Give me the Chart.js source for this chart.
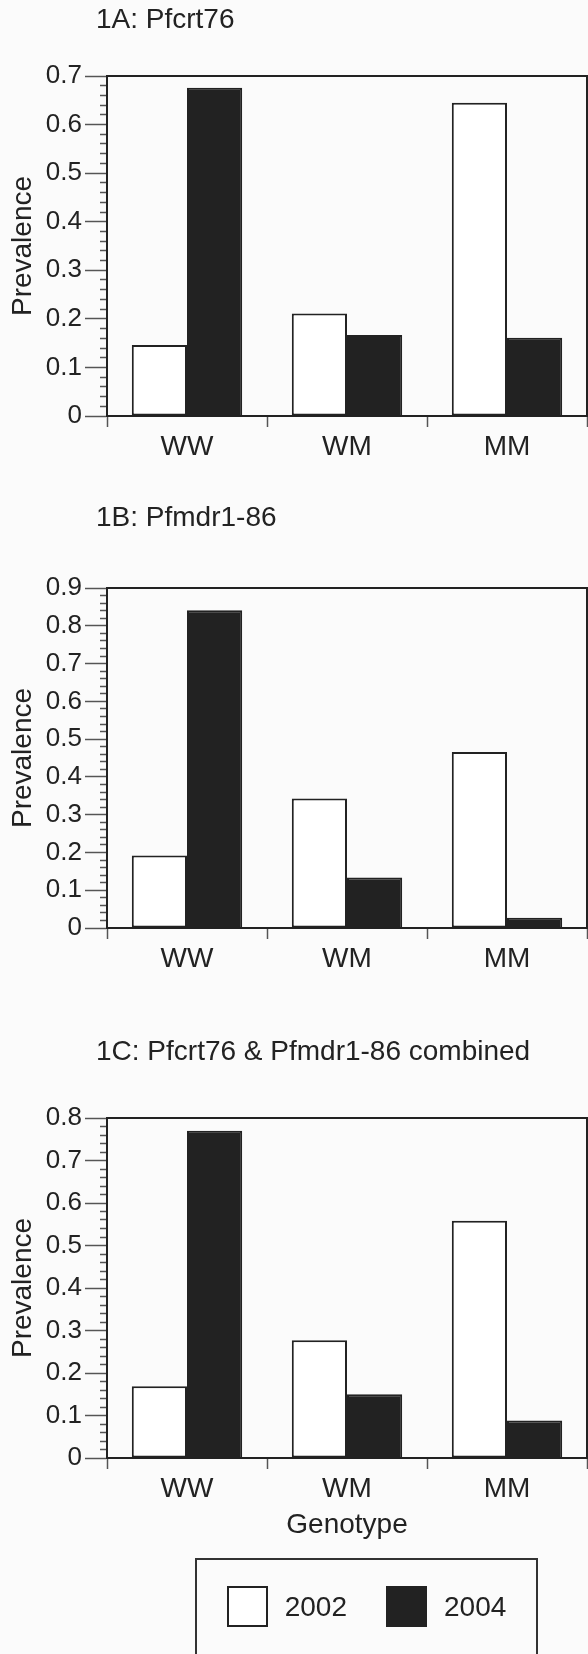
<!DOCTYPE html>
<html>
<head>
<meta charset="utf-8">
<script src="https://cdn.jsdelivr.net/npm/chart.js@4.4.1/dist/chart.umd.min.js"></script>
<style>
  html, body { margin: 0; padding: 0; background: #fbfbfb; }
  body { width: 588px; height: 1654px; position: relative; overflow: hidden; font-family: 'Liberation Sans', Arial, sans-serif; color: #222; }
  .panel { position: absolute; left: 0; width: 588px; }
  #legend {
    position: absolute; left: 195px; top: 1558px; width: 343px; height: 130px;
    box-sizing: border-box; border: 2px solid #333; padding-top: 26px;
    display: flex; justify-content: center; align-items: flex-start;
  }
  #legend .item { display: flex; align-items: center; height: 41px; }
  #legend .item + .item { margin-left: 39px; }
  #legend .swatch { width: 41px; height: 41px; box-sizing: border-box; }
  #legend .label { margin-left: 17px; font-size: 28px; line-height: 41px; }
</style>
</head>
<body>
<div class="panel" style="top:0;height:470px"><canvas id="chartA"></canvas></div>
<div class="panel" style="top:480px;height:500px"><canvas id="chartB"></canvas></div>
<div class="panel" style="top:990px;height:664px"><canvas id="chartC"></canvas></div>
<div id="legend"></div>

<script>
// genotype categories and survey years
const genotypes = ['WW', 'WM', 'MM'];
const years = ['2002', '2004'];

// 1A: Pfcrt76
const pfcrt2002 = [0.146, 0.211, 0.645];
const pfcrt2004 = [0.676, 0.167, 0.161];

// 1B: Pfmdr1-86
const pfmdr2002 = [0.192, 0.343, 0.466];
const pfmdr2004 = [0.841, 0.134, 0.027];

// 1C: both combined
const combined2002 = [0.169, 0.277, 0.558];
const combined2004 = [0.770, 0.150, 0.088];

const FONT = "'Liberation Sans', Arial, sans-serif";
const INK = '#222';
const TICK = '#555';
const LEFT_PAD = 96;   // panel titles start here
const AXIS_X = 107;    // y axis line

// top + right edge of the plot box
const framePlugin = {
  id: 'frame',
  afterDatasetsDraw(chart) {
    const { ctx, chartArea } = chart;
    ctx.save();
    ctx.strokeStyle = INK;
    ctx.lineWidth = 2;
    ctx.beginPath();
    ctx.moveTo(chartArea.left, chartArea.top);
    ctx.lineTo(chartArea.right, chartArea.top);
    ctx.lineTo(chartArea.right, chartArea.bottom);
    ctx.stroke();
    ctx.restore();
  }
};

// the layout padding only exists to push the titles right;
// give the y axis the full left margin back so labels and axis title are not clipped
const wideYAxis = {
  id: 'wideYAxis',
  afterLayout(chart) {
    const y = chart.scales.y;
    y.left = 0;
    y.width = y.right;
  }
};

// boxed legend under the last panel, built from the chart's own legend items
const htmlLegend = {
  id: 'htmlLegend',
  afterUpdate(chart) {
    const box = document.getElementById('legend');
    box.innerHTML = '';
    const items = chart.options.plugins.legend.labels.generateLabels(chart);
    items.forEach(item => {
      const el = document.createElement('div');
      el.className = 'item';
      const sw = document.createElement('span');
      sw.className = 'swatch';
      sw.style.background = item.fillStyle;
      sw.style.border = '2px solid ' + item.strokeStyle;
      const tx = document.createElement('span');
      tx.className = 'label';
      tx.textContent = item.text;
      el.appendChild(sw);
      el.appendChild(tx);
      box.appendChild(el);
    });
  }
};

function isMajor(v) {
  return Math.abs(v * 10 - Math.round(v * 10)) < 1e-6;
}

function makePanel(id, title, values2002, values2004, yMax, pads, opts) {
  const showXTitle = !!opts.xTitle;
  const plugins = [framePlugin, wideYAxis];
  if (opts.legend) plugins.push(htmlLegend);
  return new Chart(document.getElementById(id), {
    type: 'bar',
    data: {
      labels: genotypes,
      datasets: [
        {
          label: years[0],
          data: values2002,
          backgroundColor: '#ffffff',
          borderColor: INK,
          borderWidth: 2,
          borderSkipped: false
        },
        {
          label: years[1],
          data: values2004,
          backgroundColor: INK,
          borderColor: INK,
          borderWidth: 2
        }
      ]
    },
    options: {
      responsive: true,
      maintainAspectRatio: false,
      animation: false,
      layout: { padding: { top: 0, left: LEFT_PAD, right: 1, bottom: pads.bottom } },
      datasets: {
        bar: { categoryPercentage: 0.69, barPercentage: 1.0 }
      },
      plugins: {
        legend: { display: false },
        tooltip: { enabled: false },
        title: {
          display: true,
          text: title,
          align: 'start',
          color: INK,
          font: { family: FONT, size: 28, weight: 'normal' },
          padding: { top: pads.titleTop, bottom: pads.titleBottom }
        }
      },
      scales: {
        x: {
          offset: true,
          border: { color: INK, width: 2 },
          grid: {
            offset: true,
            drawOnChartArea: false,
            tickLength: 11,
            tickColor: TICK,
            tickWidth: 1.5
          },
          ticks: {
            color: INK,
            padding: 3,
            font: { family: FONT, size: 28 }
          },
          title: {
            display: showXTitle,
            text: 'Genotype',
            color: INK,
            font: { family: FONT, size: 28 },
            padding: { top: 0, bottom: 2 }
          }
        },
        y: {
          min: 0,
          max: yMax,
          afterFit(scale) { scale.width = AXIS_X - LEFT_PAD; },
          border: { color: INK, width: 2 },
          grid: {
            drawOnChartArea: false,
            tickLength: 22,
            tickColor: TICK,
            tickWidth: 1.5,
            // minor ticks: only the 7px next to the axis
            tickBorderDash: (ctx) => isMajor(ctx.tick.value) ? [] : [0, 15, 7, 100]
          },
          ticks: {
            stepSize: 0.02,
            autoSkip: false,
            color: INK,
            padding: 3,
            font: { family: FONT, size: 26 },
            callback: (v) => {
              if (!isMajor(v)) return '';
              return v === 0 ? '0' : v.toFixed(1);
            }
          },
          title: {
            display: true,
            text: 'Prevalence',
            color: INK,
            font: { family: FONT, size: 28 },
            padding: { top: 6, bottom: 0 }
          }
        }
      }
    },
    plugins: plugins
  });
}

makePanel('chartA', '1A: Pfcrt76', pfcrt2002, pfcrt2004, 0.7,
  { titleTop: 3, titleBottom: 39.4, bottom: 3.4 }, {});
makePanel('chartB', '1B: Pfmdr1-86', pfmdr2002, pfmdr2004, 0.9,
  { titleTop: 21.2, titleBottom: 53.2, bottom: 1.4 }, {});
makePanel('chartC', '1C: Pfcrt76 & Pfmdr1-86 combined', combined2002, combined2004, 0.8,
  { titleTop: 45.2, titleBottom: 49.2, bottom: 109.8 }, { xTitle: true, legend: true });
</script>
</body>
</html>
